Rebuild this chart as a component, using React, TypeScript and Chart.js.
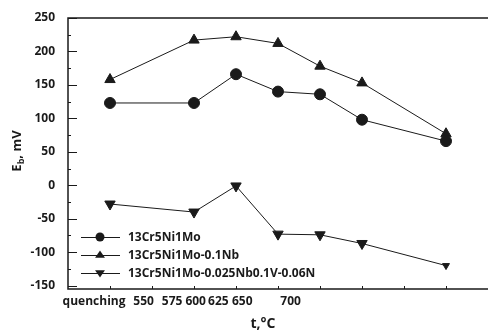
import React, { useEffect, useRef } from "react";
import { Chart, registerables } from "chart.js";

Chart.register(...registerables);

// x positions of the tempering steps on the (index) axis
const stepIndex = [0, 2, 3, 4, 5, 6, 8];
const seriesNames = [
  "13Cr5Ni1Mo",
  "13Cr5Ni1Mo-0.1Nb",
  "13Cr5Ni1Mo-0.025Nb0.1V-0.06N",
];
const seriesA = [123, 123, 166, 140, 136, 98, 66];
const seriesB = [158, 217, 222, 212, 178, 153, 77];
const seriesC = [-28, -40, -1, -73, -74, -87, -120];
const xTickLabels = ["quenching", "550", "575", "600", "625", "650", "700"];
const xTickLabelAt = [-0.38, 0.8, 1.48, 2.04, 2.58, 3.15, 4.3];
const xTickMarks = [0, 1, 2, 3, 4, 5, 6, 7, 8];
const yMajorTicks = [-150, -100, -50, 0, 50, 100, 150, 200, 250];
const yMinorTicks = [-125, -75, -25, 25, 75, 125, 175, 225];

const FONT = "'Open Sans', 'DejaVu Sans', sans-serif";
const INK = "#1a1a1a";

function drawMarker(ctx: any, style: string, rot: number, x: number, y: number, r: number) {
  ctx.save();
  ctx.translate(x, y);
  ctx.rotate((rot * Math.PI) / 180);
  ctx.beginPath();
  if (style === "circle") {
    ctx.arc(0, 0, r, 0, Math.PI * 2);
  } else {
    ctx.moveTo(0, -r);
    ctx.lineTo(r * 1.1, r * 0.6);
    ctx.lineTo(-r * 1.1, r * 0.6);
    ctx.closePath();
  }
  ctx.fill();
  ctx.restore();
}

const axesPlugin = {
  id: "customAxes",
  afterDraw(chart: any) {
    const { ctx, chartArea } = chart;
    const xs = chart.scales.x;
    const ys = chart.scales.y;
    const { left, right, top, bottom } = chartArea;
    ctx.save();
    ctx.strokeStyle = INK;
    ctx.lineWidth = 1.5;
    ctx.beginPath();
    ctx.moveTo(right, top);
    ctx.lineTo(left, top);
    ctx.lineTo(left, bottom);
    ctx.lineTo(right, bottom);
    ctx.stroke();

    ctx.lineWidth = 1;
    ctx.beginPath();
    yMajorTicks.forEach((v) => {
      const y = Math.round(ys.getPixelForValue(v)) + 0.5;
      ctx.moveTo(left, y);
      ctx.lineTo(left + 9, y);
    });
    yMinorTicks.forEach((v) => {
      const y = Math.round(ys.getPixelForValue(v)) + 0.5;
      ctx.moveTo(left, y);
      ctx.lineTo(left + 3, y);
    });
    xTickMarks.forEach((v) => {
      const x = Math.round(xs.getPixelForValue(v)) + 0.5;
      ctx.moveTo(x, bottom);
      ctx.lineTo(x, bottom - 3);
    });
    ctx.stroke();

    ctx.fillStyle = INK;
    ctx.font = `bold 12px ${FONT}`;
    ctx.textAlign = "right";
    ctx.textBaseline = "middle";
    yMajorTicks.forEach((v) => {
      ctx.fillText(String(v), left - 13, ys.getPixelForValue(v));
    });
    ctx.textAlign = "center";
    xTickLabels.forEach((t, i) => {
      ctx.fillText(t, xs.getPixelForValue(xTickLabelAt[i]), bottom + 13);
    });

    // x title
    ctx.font = `bold 14px ${FONT}`;
    ctx.fillText("t,°C", 263, bottom + 35);

    // y title with subscript
    ctx.save();
    ctx.translate(17, 151);
    ctx.rotate(-Math.PI / 2);
    const big = `bold 13px ${FONT}`;
    const small = `bold 9px ${FONT}`;
    ctx.font = big;
    const wE = ctx.measureText("E").width;
    const wRest = ctx.measureText(", mV").width;
    ctx.font = small;
    const wb = ctx.measureText("b").width;
    let x0 = -(wE + wb + wRest) / 2;
    ctx.textAlign = "left";
    ctx.font = big;
    ctx.fillText("E", x0, 0);
    x0 += wE;
    ctx.font = small;
    ctx.fillText("b", x0, 4);
    x0 += wb;
    ctx.font = big;
    ctx.fillText(", mV", x0, 0);
    ctx.restore();

    // legend (inside plot, lower left)
    const rows = [237, 255, 273];
    chart.data.datasets.forEach((ds: any, i: number) => {
      const y = rows[i];
      ctx.strokeStyle = INK;
      ctx.lineWidth = 1;
      ctx.beginPath();
      ctx.moveTo(81, y + 0.5);
      ctx.lineTo(120, y + 0.5);
      ctx.stroke();
      ctx.fillStyle = INK;
      drawMarker(ctx, ds.pointStyle, ds.rotation || 0, 100, y, 4.5);
      ctx.font = `bold 12px ${FONT}`;
      ctx.textAlign = "left";
      ctx.textBaseline = "middle";
      ctx.fillText(ds.label, 128, y + 1);
    });
    ctx.restore();
  },
};

export default function App() {
  const ref = useRef<HTMLCanvasElement>(null);
  useEffect(() => {
    document.body.style.margin = "0";
    const toPts = (vals: number[]) => vals.map((v, i) => ({ x: stepIndex[i], y: v }));
    const chart = new Chart(ref.current!, {
      type: "line",
      data: {
        datasets: [
          {
            label: seriesNames[0],
            data: toPts(seriesA),
            pointStyle: "circle",
            pointRadius: 5.5,
            borderColor: INK,
            backgroundColor: INK,
            borderWidth: 1,
          },
          {
            label: seriesNames[1],
            data: toPts(seriesB),
            pointStyle: "triangle",
            pointRadius: 6,
            borderColor: INK,
            backgroundColor: INK,
            borderWidth: 1,
          },
          {
            label: seriesNames[2],
            data: toPts(seriesC),
            pointStyle: "triangle",
            rotation: 180,
            pointRadius: [6, 6, 6, 6, 6, 6, 4],
            borderColor: INK,
            backgroundColor: INK,
            borderWidth: 1,
          } as any,
        ],
      },
      options: {
        animation: false,
        responsive: false,
        maintainAspectRatio: false,
        layout: { padding: { left: 68, top: 18, right: 0, bottom: 46 } },
        plugins: { legend: { display: false }, tooltip: { enabled: false } },
        scales: {
          x: { type: "linear", min: -1, max: 9, display: false },
          y: { type: "linear", min: -155, max: 250, display: false },
        },
        elements: { line: { tension: 0 }, point: { borderWidth: 0 } },
      },
      plugins: [axesPlugin],
    });
    return () => chart.destroy();
  }, []);
  return (
    <div style={{ width: 495, height: 335, background: "#fff" }}>
      <canvas ref={ref} width={495} height={335} />
    </div>
  );
}
